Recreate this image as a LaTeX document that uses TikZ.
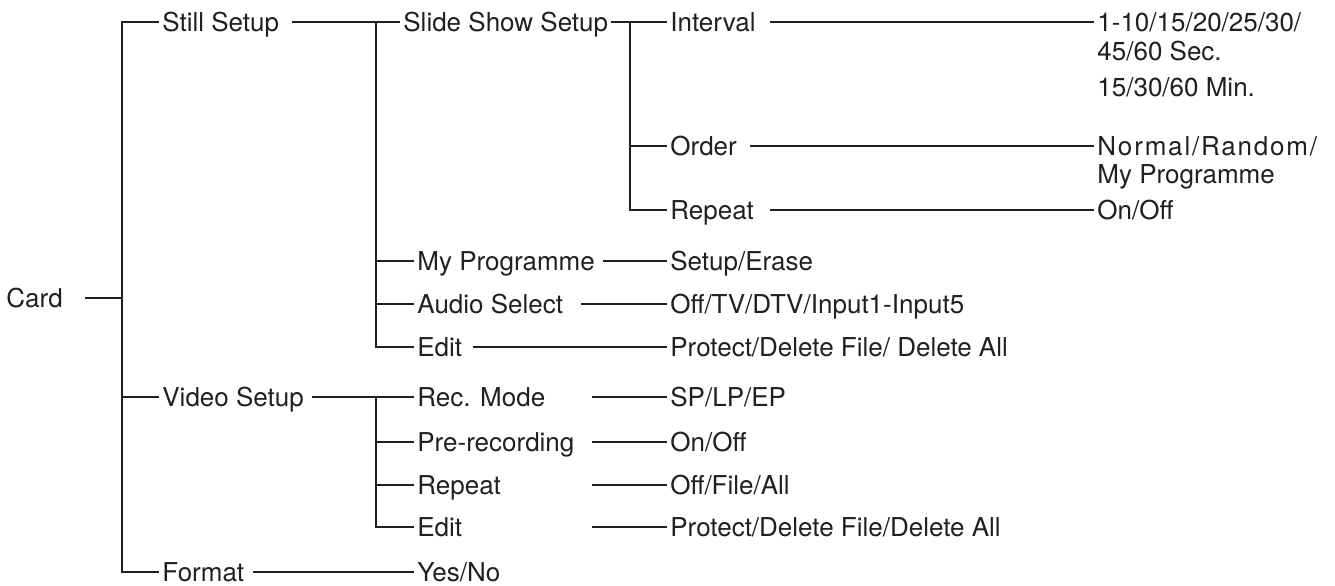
\documentclass[tikz,border=0pt]{standalone}
\usepackage{fontspec}
\setmainfont{TeX Gyre Heros}
\usepackage{tikz}
\usetikzlibrary{positioning}
\definecolor{ink}{HTML}{231F20}

\begin{document}
\begin{tikzpicture}[
    x=0.5pt, y=-0.5pt,
    item/.style={anchor=west, inner xsep=1.5pt, inner ysep=0pt, text height=9.3pt, text depth=0pt, font=\fontsize{13}{15}\selectfont, text=ink},
    link/.style={line width=1.35pt, draw=ink}
  ]
    \useasboundingbox (0,0) rectangle (1335,585);

    % first level
    \node[item] (card) at (3,298) {Card};
    \node[item] (still) at (159,22) {Still Setup};
    \node[item] (video) at (159,397) {Video Setup};
    \node[item] (format) at (159,572) {Format};

    % second level
    \node[item] (slide) at (400,22) {Slide Show Setup};
    \node[item] (myprog) at (414,261) {My Programme};
    \node[item] (audio) at (414,304) {Audio Select};
    \node[item] (editS) at (414,347) {Edit};
    \node[item] (rec) at (414,397) {Rec. Mode};
    \node[item] (prerec) at (414,442) {Pre-recording};
    \node[item] (repV) at (414,485) {Repeat};
    \node[item] (editV) at (414,527) {Edit};
    \node[item] (yesno) at (414,572) {Yes/No};

    % slide show
    \node[item] (interval) at (667,22) {Interval};
    \node[item] (order) at (667,146) {Order};
    \node[item] (repS) at (667,210) {Repeat};

    % settings
    \node[item] (ivals) at (1094,22) {1-10/15/20/25/30/};
    \node[item] (ivals2) at (1094,51) {45/60 Sec.};
    \node[item] (ivals3) at (1094,87) {15/30/60 Min.};
    \node[item] (ovals) at (1094,146) {\addfontfeature{LetterSpace=7}Normal/Random/};
    \node[item] (ovals2) at (1094,174) {My Programme};
    \node[item] (rvals) at (1094,210) {On/Off};
    \node[item] (mvals) at (667,261) {Setup/Erase};
    \node[item] (avals) at (667,304) {Off/TV/DTV/Input1-Input5};
    \node[item] (evals) at (667,347) {Protect/Delete File/ Delete All};
    \node[item] (recvals) at (667,397) {SP/LP/EP};
    \node[item] (prevals) at (667,442) {On/Off};
    \node[item] (repvals) at (667,485) {Off/File/All};
    \node[item] (editvals) at (667,527) {Protect/Delete File/Delete All};

    % where lines start and branch
    \coordinate (cardout) at (85,298);
    \coordinate (trunk) at (122,298);
    \coordinate (stillout) at (292,22);
    \coordinate (videoout) at (312,397);
    \coordinate (formatout) at (253,572);
    \coordinate (sbar) at (376,22);
    \coordinate (vbar) at (376,397);
    \coordinate (slideout) at (611,22);
    \coordinate (ibar) at (630,22);
    \coordinate (intout) at (770,22);
    \coordinate (orderout) at (750,146);
    \coordinate (repSout) at (770,210);
    \coordinate (myout) at (603,261);
    \coordinate (audout) at (581,304);
    \coordinate (editSout) at (473,347);
    \coordinate (recout) at (592,397);
    \coordinate (preout) at (592,442);
    \coordinate (repVout) at (592,485);
    \coordinate (editVout) at (592,527);

    \draw[link] (cardout) -- (trunk);
    \draw[link] (still.west) -| (trunk) |- (format.west);
    \draw[link] (trunk |- video) -- (video.west);

    \draw[link] (stillout) -- (slide.west);
    \draw[link] (sbar) |- (editS.west);
    \draw[link] (sbar |- myprog) -- (myprog.west);
    \draw[link] (sbar |- audio) -- (audio.west);

    \draw[link] (videoout) -- (rec.west);
    \draw[link] (vbar) |- (editV.west);
    \draw[link] (vbar |- prerec) -- (prerec.west);
    \draw[link] (vbar |- repV) -- (repV.west);

    \draw[link] (formatout) -- (yesno.west);

    \draw[link] (slideout) -- (interval.west);
    \draw[link] (ibar) |- (repS.west);
    \draw[link] (ibar |- order) -- (order.west);

    \foreach \a/\b in {intout/ivals, orderout/ovals, repSout/rvals, myout/mvals, audout/avals, editSout/evals, recout/recvals, preout/prevals, repVout/repvals, editVout/editvals}
      \draw[link] (\a) -- (\b.west);
  \end{tikzpicture}
\end{document}
